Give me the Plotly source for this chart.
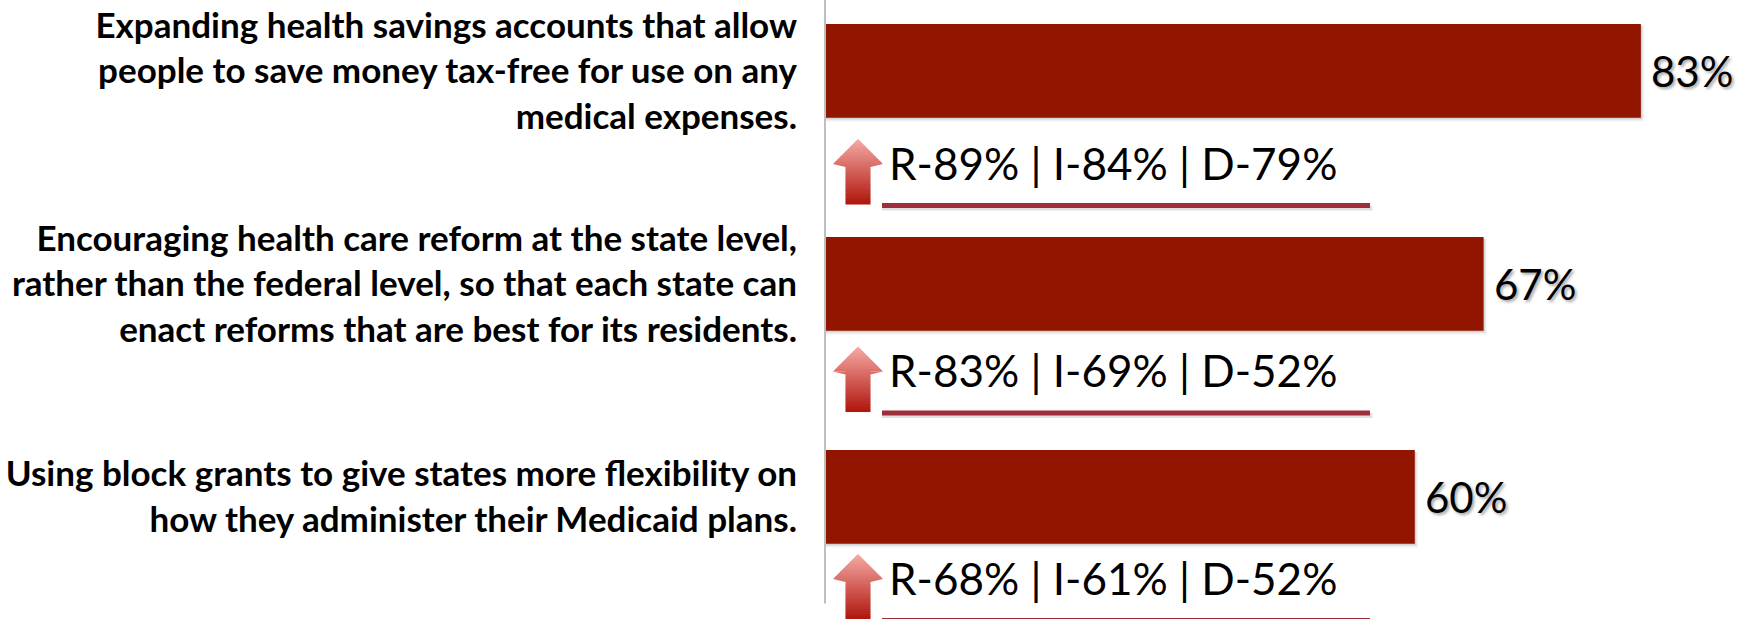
import plotly.graph_objects as go

# ---------------- data ----------------
categories = [
    "Expanding health savings accounts that allow<br>people to save money tax-free for use on any<br>medical expenses.",
    "Encouraging health care reform at the state level,<br>rather than the federal level, so that each state can<br>enact reforms that are best for its residents.",
    "Using block grants to give states more flexibility on<br>how they administer their Medicaid plans.",
]
overall = [83, 67, 60]
republicans = [89, 83, 68]
independents = [84, 69, 61]
democrats = [79, 52, 52]

# ---------------- styles ----------------
BAR_COLOR = "#921500"
LINE_COLOR = "#9E2F3A"
ARROW_TOP = (246, 170, 166)
ARROW_BOTTOM = (176, 22, 12)
FONT = "Lato"
row_shift = [0, -5.5, -11]          # per-row vertical nudge (px) of the party breakdown block

W, H = 1750, 619
L_MARGIN = 825
X_MAX = 94.1

fig = go.Figure()

fig.add_trace(go.Bar(
    x=overall, y=categories, orientation="h", width=0.44,
    marker=dict(color=BAR_COLOR, line=dict(width=0)),
    hoverinfo="skip", showlegend=False,
))

shapes = []
annotations = []

def lerp(c0, c1, t):
    return "rgb(%d,%d,%d)" % tuple(round(a + (b - a) * t) for a, b in zip(c0, c1))

for i, cat in enumerate(categories):
    s = row_shift[i]
    # soft bar shadow
    for k, a in enumerate([0.09, 0.06, 0.03]):
        shapes.append(dict(
            type="rect", xref="x", yref="y", layer="below",
            x0=0, x1=overall[i] + 0.12 * (k + 1),
            ysizemode="pixel", yanchor=i, y0=-47 - (k + 1) * 1.3, y1=45,
            line=dict(width=0), fillcolor="rgba(0,0,0,%.2f)" % a,
        ))
    # value label
    annotations.append(dict(
        x=overall[i], y=cat, xref="x", yref="y", xanchor="left", yanchor="middle",
        xshift=8, yshift=0, showarrow=False, text=f"{overall[i]}%",
        font=dict(family=FONT, size=42, color="#000000",
                  shadow="2px 2px 3px rgba(0,0,0,0.35)"),
    ))
    # party breakdown text
    annotations.append(dict(
        x=0, y=cat, xref="x", yref="y", xanchor="left", yanchor="middle",
        xshift=62, yshift=-(92 + s), showarrow=False,
        text=f"R-{republicans[i]}% | I-{independents[i]}% | D-{democrats[i]}%",
        font=dict(family=FONT, size=44, color="#000000"),
    ))
    # underline (shadow + line)
    for off, col in [(2.5, "rgba(0,0,0,0.12)"), (0, LINE_COLOR)]:
        shapes.append(dict(
            type="rect", xref="x", yref="y", xsizemode="pixel", ysizemode="pixel",
            xanchor=0, yanchor=i, x0=57, x1=545 + off,
            y0=-(132 + s) - off, y1=-(137 + s) - off,
            line=dict(width=0), fillcolor=col,
        ))
    # gradient up-arrow built from horizontal slices
    top, head_base, bottom = 68 + s, 93 + s, 133 + s
    cx, head_hw, shaft_hw = 33, 25, 12.5
    n = 26

    def hw(d):
        if d <= head_base:
            return head_hw * max(d - top, 0) / (head_base - top)
        return shaft_hw

    for k in range(n):
        d0 = top + (bottom - top) * k / n
        d1 = top + (bottom - top) * (k + 1) / n + 0.6
        if d0 < head_base < d1:
            pts = [(cx - hw(d0), d0), (cx + hw(d0), d0), (cx + head_hw, head_base),
                   (cx + shaft_hw, head_base), (cx + shaft_hw, d1), (cx - shaft_hw, d1),
                   (cx - shaft_hw, head_base), (cx - head_hw, head_base)]
        else:
            pts = [(cx - hw(d0), d0), (cx + hw(d0), d0), (cx + hw(d1), d1), (cx - hw(d1), d1)]
        path = "M " + " L ".join(f"{x:.2f},{-y:.2f}" for x, y in pts) + " Z"
        shapes.append(dict(
            type="path", xref="x", yref="y", xsizemode="pixel", ysizemode="pixel",
            xanchor=0, yanchor=i, path=path,
            line=dict(width=0), fillcolor=lerp(ARROW_TOP, ARROW_BOTTOM, (k + 0.5) / n),
        ))

# vertical axis line, ending at the bottom of the last category band
shapes.append(dict(
    type="line", xref="paper", yref="y", x0=0, x1=0,
    y0=-0.34, y1=len(categories) - 0.5,
    line=dict(color="#BFBFBF", width=2),
))

fig.update_layout(
    width=W, height=H,
    margin=dict(l=L_MARGIN, r=0, t=0, b=0, autoexpand=False),
    paper_bgcolor="white", plot_bgcolor="white",
    shapes=shapes, annotations=annotations,
    xaxis=dict(range=[0, X_MAX], visible=False, fixedrange=True, automargin=False),
    yaxis=dict(
        type="category", categoryorder="array", categoryarray=categories,
        range=[2.573, -0.333], showgrid=False, zeroline=False, showline=False,
        ticks="", ticklabelstandoff=27, automargin=False, fixedrange=True,
        tickfont=dict(family=FONT, size=35, color="#000000", weight="bold"),
    ),
    bargap=0.56,
    hovermode=False,
)

fig.write_html(
    "out.html",
    config={"displayModeBar": False, "staticPlot": True},
    post_script="document.body.style.margin='0px';document.body.style.overflow='hidden';",
)
